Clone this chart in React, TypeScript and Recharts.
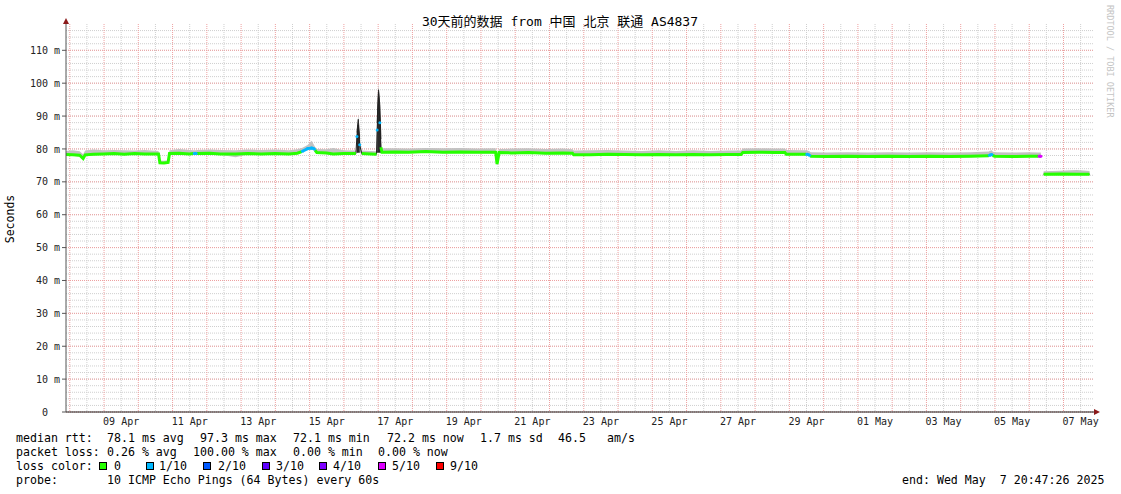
import React from 'react';
import { ComposedChart, Area, Line, XAxis, YAxis, CartesianGrid } from 'recharts';

// time axis: days since the graph start (Apr 7 20:47), 30 days wide
const days = [
    0.0, 0.2, 0.4, 0.5, 0.56, 0.8, 1.1, 1.4, 1.7, 2.0, 2.3, 2.7, 2.74, 2.86, 2.98, 3.02,
    3.3, 3.6, 3.72, 3.74, 3.8, 3.82, 4.2, 4.5, 4.95, 5.3, 5.7, 6.1, 6.5, 6.75, 6.88, 6.9, 7.05, 7.17,
    7.25, 7.27, 7.32, 7.6, 7.8, 8.1, 8.46, 8.49, 8.53, 8.57, 8.63, 8.9, 9.06, 9.08, 9.12, 9.16, 9.19,
    9.22, 9.6, 10.0, 10.5, 11.0, 11.5, 12.0, 12.54, 12.58, 12.64, 13.0, 13.5, 14.0, 14.5,
    14.78, 14.82, 15.3, 15.8, 16.3, 16.8, 17.3, 17.8, 18.3, 18.8, 19.3, 19.7, 19.75, 20.2,
    20.7, 20.98, 21.02, 21.6, 21.62, 21.7, 21.72, 21.74, 22.2, 22.8, 23.4, 24.0, 24.6, 25.2, 25.8, 26.4,
    26.93, 26.95, 27.02, 27.04, 27.1, 27.6, 28.1, 28.38, 28.4, 28.45, 28.49, 28.53, 29.0, 29.5, 29.87,
];

// median rtt in ms (null = no data)
const medianMs = [
    78.3, 78.2, 78.1, 77.1, 78.2, 78.4, 78.5, 78.6, 78.4, 78.6, 78.5, 78.5, 75.8, 75.7, 75.9, 78.6,
    78.7, 78.5, 78.6, 78.6, 78.6, 78.6, 78.7, 78.5, 78.5, 78.6, 78.5, 78.6, 78.5, 78.7, 79.2, 79.3, 80.1, 80.3,
    80.0, 79.6, 78.9, 78.8, 78.5, 78.6, 78.6, 83.8, 87.3, 81.3, 78.6, 78.5, 78.4, 85.8, 97.3, 88.0, 80.5,
    79.0, 79.1, 79.0, 79.2, 79.0, 79.1, 79.0, 79.0, 75.4, 78.9, 78.8, 78.9, 78.7, 78.8,
    78.7, 78.2, 78.2, 78.4, 78.3, 78.2, 78.3, 78.2, 78.3, 78.2, 78.3, 78.3, 78.9, 79.0,
    78.9, 78.9, 78.4, 78.4, 78.4, 78.1, 77.9, 77.8, 77.7, 77.8, 77.7, 77.8, 77.7, 77.8, 77.7, 77.8,
    77.9, 78.1, 78.3, 78.0, 77.8, 77.7, 77.8, 77.8, 77.8, 77.8, null, 72.3, 72.4, 72.3, 72.3,
];

// smoke band (spread of the 10 pings)
const smokeLowMs = [
    77.9, 77.9, 77.6, 76.8, 77.9, 78.0, 78.2, 78.3, 78.1, 78.3, 78.2, 78.2, 75.5, 75.4, 75.6, 78.3,
    78.4, 78.2, 78.3, 78.3, 78.3, 78.3, 78.3, 78.2, 77.5, 78.3, 78.2, 78.3, 78.2, 78.4, 78.9, 79.0, 79.6, 79.8,
    79.4, 79.2, 78.6, 78.5, 78.2, 78.3, 78.3, 79.0, 79.0, 79.0, 78.3, 78.2, 78.1, 79.0, 79.0, 79.0, 79.0,
    78.7, 78.7, 78.7, 78.8, 78.7, 78.8, 78.7, 78.6, 75.0, 78.6, 78.5, 78.6, 78.4, 78.5,
    78.4, 77.9, 77.9, 78.1, 78.0, 77.9, 78.0, 77.9, 78.0, 77.9, 78.0, 78.0, 78.6, 78.7,
    78.6, 78.6, 78.1, 78.1, 78.1, 77.8, 77.6, 77.5, 77.4, 77.5, 77.4, 77.5, 77.4, 77.5, 77.4, 77.5,
    77.6, 77.7, 77.8, 77.6, 77.5, 77.4, 77.5, 77.5, 77.5, 77.5, null, 72.0, 72.1, 72.0, 72.0,
];

const smokeHighMs = [
    79.4, 79.6, 79.3, 78.4, 79.5, 79.8, 79.6, 79.7, 79.6, 79.5, 79.7, 79.4, 76.5, 76.4, 76.6, 79.6,
    80.0, 79.7, 79.6, 79.6, 79.6, 79.7, 79.8, 79.7, 79.6, 79.8, 79.7, 79.8, 79.6, 79.9, 80.3, 80.4, 81.2, 82.5,
    81.0, 80.6, 80.0, 79.9, 80.3, 79.6, 79.5, 86.0, 90.4, 84.0, 79.5, 79.4, 79.3, 90.0, 100.0, 95.0, 84.0,
    80.2, 80.2, 80.1, 80.3, 80.2, 80.3, 80.1, 80.2, 76.2, 80.0, 80.1, 80.2, 80.0, 80.1,
    79.9, 79.5, 79.6, 79.7, 79.5, 79.4, 79.6, 79.4, 79.6, 79.4, 79.5, 79.5, 80.1, 80.2,
    80.1, 80.1, 79.7, 79.6, 79.6, 79.3, 79.1, 79.0, 78.9, 79.0, 78.9, 79.0, 78.9, 79.0, 78.9, 79.0,
    79.2, 79.4, 79.6, 79.2, 79.0, 78.9, 79.0, 78.9, 78.9, 78.9, null, 73.2, 73.4, 73.6, 73.3,
];

// dense dark smoke, only around the two spikes
const darkHighMs = [
    null, null, null, null, null, null, null, null, null, null, null, null, null, null, null, null,
    null, null, null, null, null, null, null, null, null, null, null, null, null, null, null, null, null, null,
    null, null, null, null, null, null, null, 85.0, 89.0, 83.0, null, null, null, 88.0, 98.0, 93.0, 83.0,
    null, null, null, null, null, null, null, null, null, null, null, null, null, null,
    null, null, null, null, null, null, null, null, null, null, null, null, null, null,
    null, null, null, null, null, null, null, null, null, null, null, null, null, null, null, null,
    null, null, null, null, null, null, null, null, null, null, null, null, null, null, null,
];

// packet loss per step, in tenths
const lossTenths = [
    0, 0, 0, 0, 0, 0, 0, 0, 0, 0, 0, 0, 0, 0, 0, 0,
    0, 0, 0, 1, 1, 0, 0, 0, 0, 0, 0, 0, 0, 0, 0, 1, 1, 1,
    1, 0, 0, 0, 0, 0, 0, 1, 0, 1, 0, 0, 0, 1, 0, 1, 0,
    0, 0, 0, 0, 0, 0, 0, 0, 0, 0, 0, 0, 0, 0,
    0, 0, 0, 0, 0, 0, 0, 0, 0, 0, 0, 0, 0, 0,
    0, 0, 0, 0, 1, 1, 0, 0, 0, 0, 0, 0, 0, 0, 0, 0,
    0, 1, 1, 0, 0, 0, 0, 0, 5, 5, 0, 0, 0, 0, 0,
];

const lossLevels = [0, 1, 2, 3, 4, 5, 9];
const lossLabels = ['0', '1/10', '2/10', '3/10', '4/10', '5/10', '9/10'];
const lossColors = ['#26ff00', '#00b8ff', '#0059ff', '#5e00ff', '#7e00ff', '#dd00ff', '#ff0000'];

const tickDays = [1.61, 3.61, 5.61, 7.61, 9.61, 11.61, 13.61, 15.61, 17.61, 19.61, 21.61, 23.61, 25.61, 27.61, 29.61];
const tickLabels = ['09 Apr', '11 Apr', '13 Apr', '15 Apr', '17 Apr', '19 Apr', '21 Apr', '23 Apr', '25 Apr', '27 Apr', '29 Apr', '01 May', '03 May', '05 May', '07 May'];

const yTicks = [0, 10, 20, 30, 40, 50, 60, 70, 80, 90, 100, 110];

// grid: midnight lines (red) and noon lines (grey)
const midnightDays = Array.from({ length: 30 }, (_, k) => 0.11 + k);
const noonDays = Array.from({ length: 30 }, (_, k) => 0.61 + k);
const minorMs = Array.from({ length: 59 }, (_, k) => k * 2);
const majorMs = yTicks;

const W = 1121;
const H = 494;
const MONO = '"DejaVu Sans Mono", monospace';

const chartData = days.map((t, i) => {
    const row: any = {
        t,
        median: medianMs[i],
        smoke: medianMs[i] == null ? null : [smokeLowMs[i], smokeHighMs[i]],
        dark: darkHighMs[i] == null ? null : [smokeLowMs[i], darkHighMs[i]],
    };
    lossLevels.forEach((lv) => {
        row['loss' + lv] = lossTenths[i] === lv && medianMs[i] != null ? medianMs[i] : null;
    });
    return row;
});

const YTick = (props: any) => {
    const v = props.payload.value;
    const label = v === 0 ? '0  ' : `${v} m`;
    return (
        <text x={60} y={props.y} dy={3.6} textAnchor="end" fontFamily={MONO} fontSize={10} fill="#222" xmlSpace="preserve" style={{ whiteSpace: 'pre' }}>
            {label}
        </text>
    );
};

const XTick = (props: any) => {
    const idx = tickDays.indexOf(props.payload.value);
    return (
        <text x={props.x} y={425} textAnchor="middle" fontFamily={MONO} fontSize={10} fill="#222">
            {tickLabels[idx]}
        </text>
    );
};

const legendRow1 = [
    [16, 'median rtt:'], [107, '78.1 ms avg'], [200, '97.3 ms max'], [293, '72.1 ms min'],
    [387, '72.2 ms now'], [480, '1.7 ms sd'], [558, '46.5'], [607, 'am/s'],
];
const legendRow2 = [
    [16, 'packet loss:'], [107, '0.26 % avg'], [193, '100.00 % max'], [293, '0.00 % min'], [378, '0.00 % now'],
];
const boxX = [99, 146, 203, 262, 319, 378, 436];
const labelX = [114, 159, 218, 276, 333, 392, 450];

const Txt = ({ x, y, children }: any) => (
    <text x={x} y={y} xmlSpace="preserve" style={{ whiteSpace: 'pre' }}>{children}</text>
);

export default function App() {
    return (
        <div style={{ position: 'absolute', left: 0, top: 0, width: W, height: H, background: '#fff' }}>
            <ComposedChart width={W} height={H} data={chartData} margin={{ top: 24, right: 27, bottom: 62, left: 0 }}>
                <CartesianGrid stroke="#cfcfcf" strokeDasharray="1 1" horizontalValues={minorMs} verticalValues={noonDays} />
                <CartesianGrid stroke="#eea0a0" strokeDasharray="1 1" horizontalValues={majorMs} verticalValues={midnightDays} />
                <XAxis
                    dataKey="t"
                    type="number"
                    domain={[0, 30]}
                    ticks={tickDays}
                    interval={0}
                    height={20}
                    tickLine={false}
                    tick={<XTick />}
                    axisLine={{ stroke: '#222' }}
                    allowDataOverflow
                />
                <YAxis
                    type="number"
                    domain={[0, 118]}
                    ticks={yTicks}
                    interval={0}
                    width={66}
                    tickSize={4}
                    tickLine={{ stroke: '#555' }}
                    tick={<YTick />}
                    axisLine={{ stroke: '#555' }}
                    allowDataOverflow
                />
                <Area dataKey="smoke" type="linear" stroke="none" fill="#c2c2c2" fillOpacity={1} isAnimationActive={false} dot={false} activeDot={false} />
                <Area dataKey="dark" type="linear" stroke="#2a2a2a" strokeWidth={1} fill="#2a2a2a" fillOpacity={1} isAnimationActive={false} dot={false} activeDot={false} />
                <Line dataKey="median" type="linear" stroke="#202020" strokeWidth={1} dot={false} activeDot={false} isAnimationActive={false} />
                {lossLevels.map((lv, i) => (
                    <Line
                        key={lv}
                        dataKey={'loss' + lv}
                        type="linear"
                        stroke={lossColors[i]}
                        strokeWidth={3}
                        dot={lv === 0 ? false : { r: 1.5, fill: lossColors[i], stroke: 'none' }}
                        activeDot={false}
                        isAnimationActive={false}
                    />
                ))}
            </ComposedChart>

            <svg width={W} height={H} style={{ position: 'absolute', left: 0, top: 0, pointerEvents: 'none' }}>
                {/* axis arrows */}
                <line x1={66} y1={24} x2={66} y2={21} stroke="#555" />
                <polygon points="63,24 69,24 66,18" fill="#8b1a1a" />
                <line x1={1094} y1={412} x2={1097} y2={412} stroke="#222" />
                <polygon points="1094,409 1094,415 1100,412" fill="#8b1a1a" />

                <text x={560} y={26} textAnchor="middle" fontFamily={'"DejaVu Sans Mono", "Noto Sans CJK SC", monospace'} fontSize={13} fill="#000" xmlSpace="preserve" style={{ whiteSpace: 'pre' }}>
                    30天前的数据 from 中国 北京 联通 AS4837
                </text>
                <text transform="translate(14,219) rotate(-90)" textAnchor="middle" fontFamily={MONO} fontSize={11.5} fill="#000">
                    Seconds
                </text>
                <text transform="translate(1107,5) rotate(90)" fontFamily={MONO} fontSize={8.5} fill="#c4c4c4">
                    RRDTOOL / TOBI OETIKER
                </text>

                <g fontFamily={MONO} fontSize={11.6} fill="#000">
                    {legendRow1.map(([x, s]) => (
                        <Txt key={'a' + x} x={x} y={442}>{s}</Txt>
                    ))}
                    {legendRow2.map(([x, s]) => (
                        <Txt key={'b' + x} x={x} y={456}>{s}</Txt>
                    ))}
                    <Txt x={16} y={470}>loss color:</Txt>
                    {lossLabels.map((lab, i) => (
                        <g key={lab}>
                            <rect x={boxX[i] + 0.5} y={462.5} width={7} height={7} fill={lossColors[i]} stroke="#000" strokeWidth={1} />
                            <Txt x={labelX[i]} y={470}>{lab}</Txt>
                        </g>
                    ))}
                    <Txt x={16} y={484}>probe:</Txt>
                    <Txt x={107} y={484}>10 ICMP Echo Pings (64 Bytes) every 60s</Txt>
                    <Txt x={902} y={484}>{'end: Wed May  7 20:47:26 2025'}</Txt>
                </g>
            </svg>
        </div>
    );
}
